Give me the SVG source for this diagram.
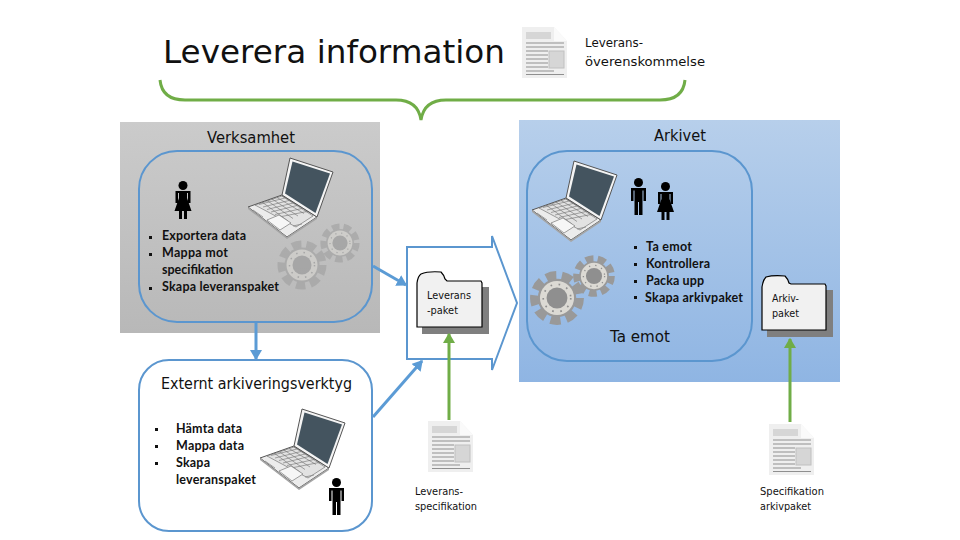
<svg xmlns="http://www.w3.org/2000/svg" width="960" height="540" viewBox="0 0 960 540">
<style>
text{font-family:"DejaVu Sans","Liberation Sans",sans-serif;fill:#111}
.h{font-size:15px}
.s{font-size:11px}
.b{font-family:Lato,"Open Sans",sans-serif;font-size:12.5px;font-weight:700;fill:#111}
.box{fill:none;stroke:#5b96cf;stroke-width:2}
.bl{fill:none;stroke:#5b9bd5;stroke-width:3}
.gr{fill:none;stroke:#70ad47;stroke-width:3}
.fold{fill:#f1f1f1;stroke:#000;stroke-width:1.2}
.sh{fill:#7f7f7f}
.dot{fill:#111}
</style>
<defs>
<linearGradient id="grey" x1="0" y1="0" x2="0" y2="1"><stop offset="0" stop-color="#cbcbcb"/><stop offset="1" stop-color="#b8b8b8"/></linearGradient>
<linearGradient id="blue" x1="0" y1="0" x2="0" y2="1"><stop offset="0" stop-color="#b7cfeb"/><stop offset="1" stop-color="#8fb5e3"/></linearGradient>
<marker id="ab" markerWidth="4" markerHeight="4" refX="3" refY="2" orient="auto" markerUnits="strokeWidth"><path d="M0 0L3.400 2L0 4z" fill="#5b9bd5"/></marker>
<marker id="ag" markerWidth="4" markerHeight="4" refX="3" refY="2" orient="auto" markerUnits="strokeWidth"><path d="M0 0L3.400 2L0 4z" fill="#70ad47"/></marker>
<g id="laptop">
<path d="M0 49L34 37L69 59L39 79Z" fill="#ececec" stroke="#555" stroke-width="1"/>
<path d="M7 47L34 38L65 58L48 69L35 62Z" fill="#e2e2e2" stroke="#666" stroke-width="0.6"/>
<path d="M11 46.500L37 40M15 49L41 42.500M19 51.500L45 45M23 54L49 47.500M27 56.500L54 50.500M31 59L59 53.500M14 44L40 63M19 42.500L45 60.500M24 41L50 58M29 39.500L56 55.500M34 38L61 54" stroke="#6f6f6f" stroke-width="0.6" fill="none"/>
<path d="M19 62L31 57L43 65L32 72Z" fill="#f6f6f6" stroke="#777" stroke-width="0.7"/>
<path d="M5 52L15 59M45 68L54 66" stroke="#888" stroke-width="0.8" fill="none"/>
<path d="M0 49L39 79L69 59L69 61L39 81L0 51Z" fill="#a5a5a5"/>
<path d="M34 37L42 0L85 14L69 59Z" fill="#f4f4f4" stroke="#555" stroke-width="1"/>
<path d="M37 35.500L44.500 3.500L82 15.500L67.500 55Z" fill="#44545f"/>
</g>
<g id="gear">
<circle cx="0" cy="0" r="20" fill="none" stroke="#999" stroke-width="9" stroke-dasharray="9 5"/>
<circle cx="0" cy="0" r="17.500" fill="#999"/>
<circle cx="0" cy="0" r="15.500" fill="#dcdad4"/>
<circle cx="0" cy="0" r="9.500" fill="#8f8f8f"/>
<circle cx="0" cy="0" r="12.500" fill="none" stroke="#8f8f8f" stroke-width="1.500" stroke-dasharray="1.500 6"/>
</g>
<g id="doc">
<path d="M0 0H32L45 14V51H0Z" fill="#efefef"/>
<path d="M32 0L45 14H32Z" fill="#fafafa"/>
<rect x="4" y="5" width="25" height="7" fill="#d6d6d6"/>
<path d="M4 16H42M4 20H42M4 24H26M4 28H26M4 32H26M4 36H26M4 40H26M4 44H32M4 47.500H42" stroke="#8f8f8f" stroke-width="1" fill="none"/>
<rect x="27" y="24" width="15" height="17" fill="#d6d6d6" stroke="#c0c0c0"/>
</g>
<g id="man">
<circle cx="8.500" cy="4.500" r="4.500" fill="#000"/>
<path d="M1 10H16V23H13.500V12.500H12.500V37H9V24H8V37H4.500V12.500H3.500V23H1Z" fill="#000"/>
</g>
<g id="woman">
<circle cx="8.500" cy="4.500" r="4.500" fill="#000"/>
<path d="M1 10H16V22H13.500V12H3.500V22H1Z" fill="#000"/>
<path d="M4.500 11H12.500V17L17 30H12.500V38H9.500V30H7.500V38H4.500V30H0L4.500 17Z" fill="#000"/>
</g>
</defs>

<rect id="panel-verksamhet" x="120" y="122" width="260" height="211" fill="url(#grey)"/>
<rect id="panel-arkivet" x="519" y="120" width="321" height="262" fill="url(#blue)"/>

<g id="title"><text x="163" y="63" font-size="32" textLength="342" lengthAdjust="spacingAndGlyphs">Leverera information</text></g>
<g id="doc-overenskommelse"><use href="#doc" transform="translate(522,27)"/>
<text x="585" y="47" font-size="12.500" textLength="58" lengthAdjust="spacingAndGlyphs">Leverans-</text>
<text x="585" y="66" font-size="12.500" textLength="120" lengthAdjust="spacingAndGlyphs">överenskommelse</text></g>

<g id="verksamhet">
<text class="h" x="207" y="143" textLength="88" lengthAdjust="spacingAndGlyphs">Verksamhet</text>
<rect class="box" x="139" y="151" width="233" height="171" rx="38"/>
<use href="#woman" transform="translate(174.500,181)"/>
<use href="#laptop" transform="translate(248,158)"/>
<use href="#gear" transform="translate(302,265)" opacity="0.5"/>
<use href="#gear" transform="translate(340,243) scale(0.8)" opacity="0.5"/>
<rect class="dot" x="149" y="236" width="3" height="3"/><text class="b" x="162" y="240" textLength="84">Exportera data</text>
<rect class="dot" x="149" y="253" width="3" height="3"/><text class="b" x="162" y="257" textLength="66">Mappa mot</text>
<text class="b" x="162" y="274" textLength="71">specifikation</text>
<rect class="dot" x="149" y="287" width="3" height="3"/><text class="b" x="162" y="291" textLength="117">Skapa leveranspaket</text>
</g>

<g id="arkivet">
<text class="h" x="654" y="141" textLength="52" lengthAdjust="spacingAndGlyphs">Arkivet</text>
<rect class="box" x="527" y="151" width="225" height="210" rx="40"/>
<use href="#laptop" transform="translate(532,161)"/>
<use href="#man" transform="translate(630,178)"/>
<use href="#woman" transform="translate(657,182)"/>
<use href="#gear" transform="translate(557,298) scale(1.1)"/>
<use href="#gear" transform="translate(594,276) scale(0.85)"/>
<rect class="dot" x="634" y="246" width="3" height="3"/><text class="b" x="646" y="251" textLength="46">Ta emot</text>
<rect class="dot" x="634" y="263" width="3" height="3"/><text class="b" x="646" y="268" textLength="64">Kontrollera</text>
<rect class="dot" x="634" y="280" width="3" height="3"/><text class="b" x="646" y="285" textLength="58">Packa upp</text>
<rect class="dot" x="634" y="296" width="3" height="3"/><text class="b" x="645" y="302" textLength="98">Skapa arkivpaket</text>
<text class="h" x="610" y="342" textLength="60" lengthAdjust="spacingAndGlyphs">Ta emot</text>
</g>

<g id="externt">
<rect class="box" x="139" y="360" width="233" height="171" rx="30"/>
<text class="h" x="161" y="389" textLength="191" lengthAdjust="spacingAndGlyphs">Externt arkiveringsverktyg</text>
<use href="#laptop" transform="translate(260,409)"/>
<use href="#man" transform="translate(328,478)"/>
<rect class="dot" x="155" y="428" width="3" height="3"/><text class="b" x="176" y="433" textLength="66">Hämta data</text>
<rect class="dot" x="155" y="445" width="3" height="3"/><text class="b" x="176" y="450" textLength="68">Mappa data</text>
<rect class="dot" x="155" y="462" width="3" height="3"/><text class="b" x="176" y="467" textLength="34">Skapa</text>
<text class="b" x="176" y="484" textLength="80">leveranspaket</text>
</g>

<g id="leverans-arrow"><path d="M407 247H492V236L517 303L492 370V359H407Z" fill="none" stroke="#5b96cf" stroke-width="2"/></g>

<g id="leverans-paket">
<rect class="sh" x="422" y="287" width="67" height="47"/>
<path class="fold" d="M417 327V283Q418 276 421 274Q428 271 441 272Q444 275 445 279L447 281H481L482 283V327Z"/>
<text class="s" x="427" y="299" textLength="44" lengthAdjust="spacingAndGlyphs">Leverans</text>
<text class="s" x="427" y="314" textLength="31" lengthAdjust="spacingAndGlyphs">-paket</text>
</g>

<g id="arkiv-paket">
<rect class="sh" x="767" y="290" width="66" height="47"/>
<path class="fold" d="M762 330V287Q763 280 766 277Q773 275 785 276Q788 279 789 283L791 284H825L826 286V330Z"/>
<text class="s" x="772" y="302" textLength="27" lengthAdjust="spacingAndGlyphs">Arkiv-</text>
<text class="s" x="772" y="317" textLength="27" lengthAdjust="spacingAndGlyphs">paket</text>
</g>

<g id="doc-leveransspec"><use href="#doc" transform="translate(428,421)"/>
<text class="s" x="415" y="495" textLength="48" lengthAdjust="spacingAndGlyphs">Leverans-</text>
<text class="s" x="415" y="510" textLength="62" lengthAdjust="spacingAndGlyphs">specifikation</text></g>
<g id="doc-arkivspec"><use href="#doc" transform="translate(769,424)"/>
<text class="s" x="760" y="495" textLength="64" lengthAdjust="spacingAndGlyphs">Specifikation</text>
<text class="s" x="760" y="510" textLength="51" lengthAdjust="spacingAndGlyphs">arkivpaket</text></g>

<g id="connectors">
<path d="M160 80Q162 100 185 100H396Q418 100 421 120Q424 100 446 100H660Q683 100 685 80" class="gr"/>
<path class="bl" d="M373 266L406 285" marker-end="url(#ab)"/>
<path class="bl" d="M256 323V359" marker-end="url(#ab)"/>
<path class="bl" d="M373 417L422 361" marker-end="url(#ab)"/>
<path class="gr" d="M449 420V334" marker-end="url(#ag)"/>
<path class="gr" d="M790 422V339" marker-end="url(#ag)"/>
</g>
</svg>
